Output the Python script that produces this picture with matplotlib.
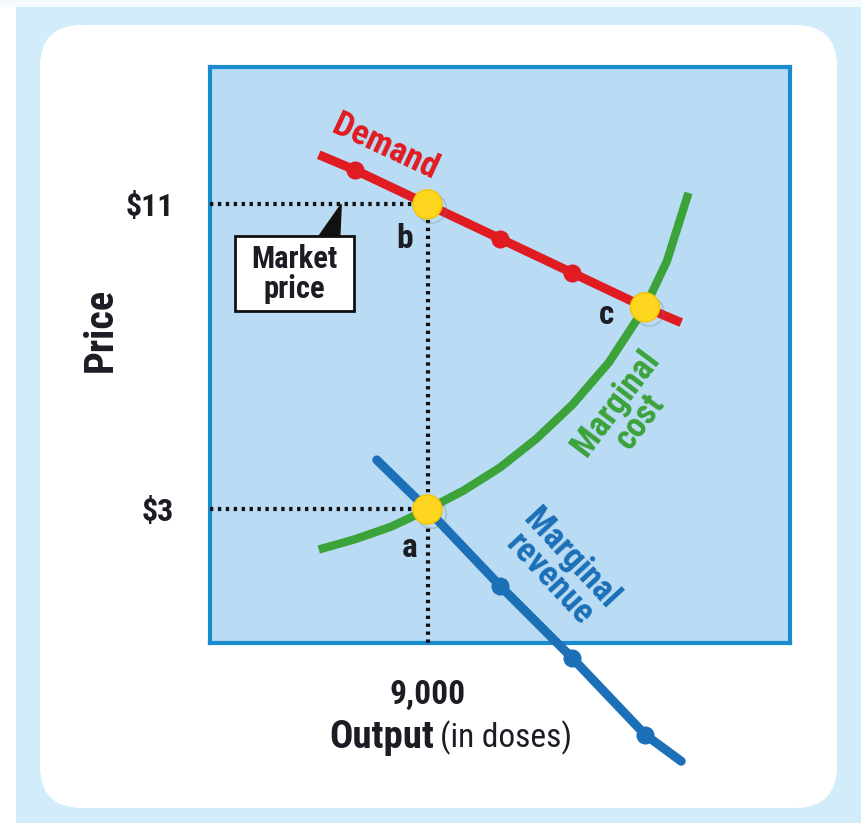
import matplotlib
matplotlib.use('Agg')
import matplotlib.pyplot as plt
from matplotlib import font_manager as fm
from matplotlib.patches import FancyBboxPatch, Rectangle, Polygon
import matplotlib.patheffects as pe

# ---------------- data ----------------
quantity_ticks = [9000]
quantity_tick_labels = ['9,000']
price_ticks = [3, 11]
price_tick_labels = ['$3', '$11']

demand_q = [7500, 8000, 9000, 10000, 11000, 12000, 12500]
demand_p = [12.3, 11.9, 11.0, 10.1, 9.2, 8.3, 7.9]
demand_marker_q = [8000, 10000, 11000]
demand_marker_p = [11.9, 10.1, 9.2]

mr_q = [8300, 9000, 10000, 11000, 12000, 12500]
mr_p = [4.3, 3.0, 1.0, -0.9, -2.9, -3.6]
mr_marker_q = [10000, 11000, 12000]
mr_marker_p = [1.0, -0.9, -2.9]

mc_q = [7500, 8000, 8500, 9000, 9500, 10000, 10500, 11000, 11500, 12000, 12300, 12600]
mc_p = [1.95, 2.22, 2.55, 3.0, 3.5, 4.1, 4.85, 5.75, 6.85, 8.3, 9.5, 11.3]

key_q = [9000, 9000, 12000]
key_p = [11.0, 3.0, 8.3]
key_labels = ['b', 'a', 'c']

market_price = 11.0
mc_price = 3.0
chosen_q = 9000

# ---------------- fonts ----------------
def pick(names):
    for n in names:
        try:
            fm.findfont(fm.FontProperties(family=n), fallback_to_default=False)
            return n
        except Exception:
            pass
    return 'DejaVu Sans'

COND = pick(['Liberation Sans Narrow', 'Roboto Condensed', 'Liberation Sans'])
plt.rcParams['font.family'] = [COND, 'DejaVu Sans']

RED = '#e11b22'
GREEN = '#3ca23a'
BLUE = '#1b70b8'
YELLOW = '#ffd61f'
DARK = '#1c1c24'
BG = '#d3ecfa'
AXFACE = '#b9dbf3'
AXEDGE = '#1a8cce'

W, H = 862, 823
fig = plt.figure(figsize=(W / 100, H / 100), dpi=100)
fig.patch.set_facecolor(BG)

# background decoration axes in pixel coordinates
bg = fig.add_axes([0, 0, 1, 1], zorder=-5)
bg.set_xlim(0, W)
bg.set_ylim(H, 0)
bg.axis('off')
bg.add_patch(Rectangle((0, 0), 16, H, facecolor='white', edgecolor='none'))
bg.add_patch(Rectangle((0, 0), W, 7, facecolor='#f4fafd', edgecolor='none'))
bg.add_patch(FancyBboxPatch((40 + 42, 25 + 42), 797 - 84, 783 - 84,
                            boxstyle='round,pad=42', facecolor='white',
                            edgecolor='none'))

# main axes
ax = fig.add_axes([210 / W, 1 - 643 / H, 580 / W, 576 / H])
ax.set_facecolor(AXFACE)
ax.set_xlim(6000, 14000)
ax.set_ylim(-0.5, 14.6)
for s in ax.spines.values():
    s.set_color(AXEDGE)
    s.set_linewidth(3)

ax.set_xticks(quantity_ticks)
ax.set_xticklabels(quantity_tick_labels, fontsize=24, fontweight='bold', color=DARK)
ax.set_yticks(price_ticks)
ax.set_yticklabels(price_tick_labels, fontsize=23, fontweight='bold', color=DARK)
ax.tick_params(axis='both', length=0)
ax.tick_params(axis='x', pad=26)
ax.tick_params(axis='y', pad=26)

# curves
ax.plot(mc_q, mc_p, color=GREEN, lw=6, solid_capstyle='butt', solid_joinstyle='round', zorder=3)
ax.plot(mr_q, mr_p, color=BLUE, lw=6.5, solid_capstyle='round', zorder=4, clip_on=False)
ax.plot(mr_marker_q, mr_marker_p, 'o', color=BLUE, ms=12, zorder=4, clip_on=False)
ax.plot(demand_q, demand_p, color=RED, lw=6.5, solid_capstyle='butt', zorder=5)
ax.plot(demand_marker_q, demand_marker_p, 'o', color=RED, ms=12, zorder=5)

# dotted guide lines
dot = dict(color='#111111', lw=3, linestyle=(0, (0.8, 1.1)), zorder=6)
ax.plot([6000, chosen_q], [market_price, market_price], **dot)
ax.plot([6000, chosen_q], [mc_price, mc_price], **dot)
ax.plot([chosen_q, chosen_q], [market_price, -0.5], **dot)

# key yellow points
ax.plot(key_q, key_p, 'o', color=YELLOW, ms=21, mec='#f5c400', mew=1, zorder=8,
        path_effects=[pe.SimpleLineShadow(offset=(3, -3), shadow_color='#5a7890', alpha=0.3),
                      pe.Normal()])

# point labels
lab_pos = {'b': (8680, 10.1), 'a': (8750, 2.0), 'c': (11470, 8.1)}
for k in key_labels:
    x, y = lab_pos[k]
    ax.text(x, y, k, fontsize=24, fontweight='bold', color=DARK, ha='center', va='center', zorder=9)

# curve labels
ax.text(8410, 12.5, 'Demand', color=RED, fontsize=25, fontweight='bold',
        rotation=-25, ha='center', va='center', rotation_mode='anchor', zorder=9)
ax.text(11760, 5.55, 'Marginal\ncost', color=GREEN, fontsize=25, fontweight='bold',
        rotation=53, ha='center', va='center', rotation_mode='anchor',
        linespacing=0.9, zorder=9)
ax.text(10830, 1.45, 'Marginal\nrevenue', color=BLUE, fontsize=25, fontweight='bold',
        rotation=-47, ha='center', va='center', rotation_mode='anchor',
        linespacing=0.9, zorder=9)

# market price callout
ax.add_patch(Rectangle((6350, 8.2), 1630, 1.96, facecolor='white', edgecolor='#111111',
                       lw=2, zorder=7))
ax.add_patch(Polygon([(7500, 10.16), (7790, 10.16), (7810, market_price)], closed=True,
                     facecolor='#111111', edgecolor='#111111', zorder=7))
ax.text(7165, 9.18, 'Market\nprice', fontsize=22, fontweight='bold', color=DARK,
        ha='center', va='center', linespacing=1.0, zorder=8)

# axis titles
fig.text(101 / W, 1 - 330 / H, 'Price', rotation=90, fontsize=29, fontweight='bold',
         color=DARK, ha='center', va='center')
fig.text(434 / W, 1 - 738 / H, 'Output', fontsize=28, fontweight='bold', color=DARK,
         ha='right', va='center')
fig.text(440 / W, 1 - 738 / H, '(in doses)', fontsize=24, color=DARK,
         ha='left', va='center')

fig.savefig('out.png', dpi=100, facecolor=fig.get_facecolor())
